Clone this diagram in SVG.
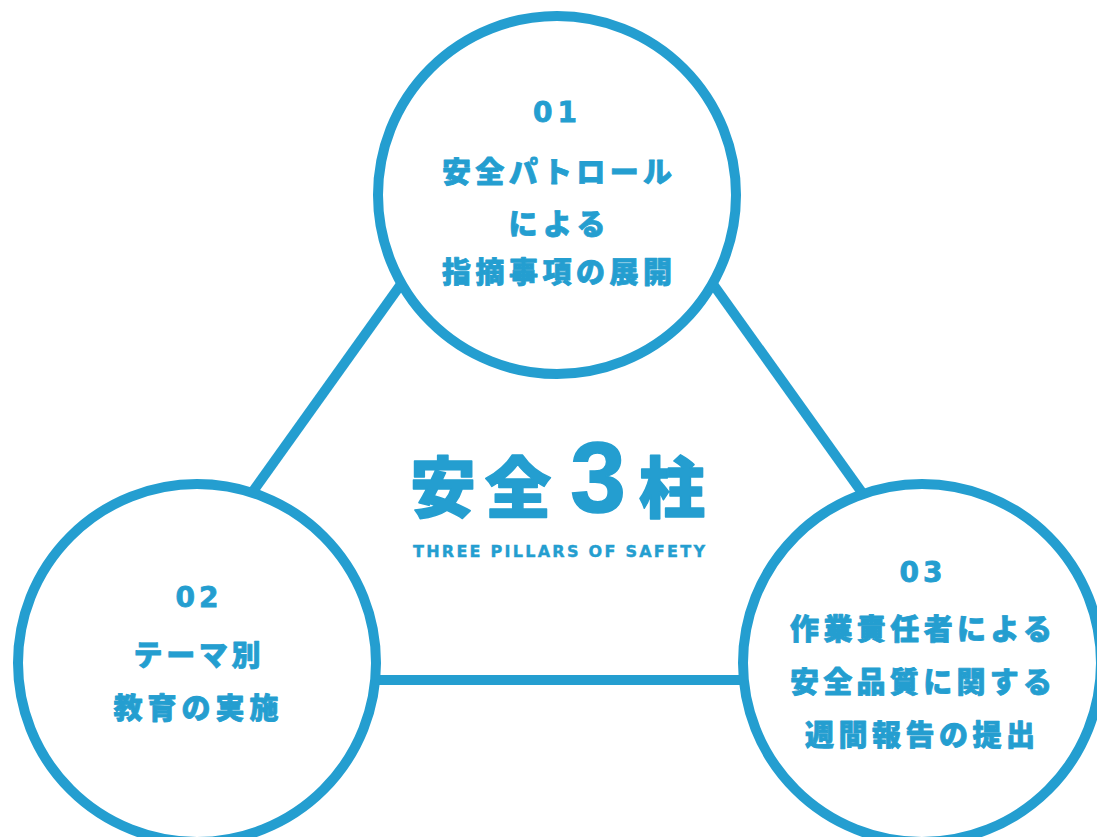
<svg xmlns="http://www.w3.org/2000/svg" width="1097" height="837" viewBox="0 0 1097 837">
  <style>
    .bg { fill: #ffffff; }
    .ring { fill: #ffffff; stroke: #249ed0; stroke-width: 10; }
    .edge { stroke: #249ed0; stroke-width: 10; stroke-linecap: butt; }
    .t { fill: #249ed0; stroke: #249ed0; stroke-width: 0.8; stroke-linejoin: round; font-family: "Noto Sans CJK JP", "Noto Sans", sans-serif; font-weight: 900; text-anchor: middle; dominant-baseline: central; }
    .num { fill: #249ed0; stroke: #249ed0; stroke-width: 0.8; font-family: "DejaVu Sans", "Liberation Sans", sans-serif; font-weight: 700; font-size: 28px; text-anchor: middle; dominant-baseline: central; }
    .lbl { font-size: 29px; }
    .big { font-size: 66px; stroke-width: 1.5; }
    .digit { fill: #249ed0; stroke: #249ed0; stroke-width: 1.5; font-family: "Liberation Sans", "Noto Sans", sans-serif; font-weight: 700; font-size: 100px; text-anchor: middle; }
    .sub { fill: #249ed0; stroke: #249ed0; stroke-width: 0.4; font-family: "DejaVu Sans", "Liberation Sans", sans-serif; font-weight: 700; font-size: 16px; text-anchor: middle; }
  </style>
  <rect class="bg" x="0" y="0" width="1097" height="837"/>

  <g id="connectors">
    <line class="edge" x1="557" y1="66" x2="118" y2="680"/>
    <line class="edge" x1="557" y1="66" x2="996" y2="680"/>
    <line class="edge" x1="118" y1="680" x2="996" y2="680"/>
  </g>

  <g id="title">
    <text class="t big" x="443" y="483">安</text>
    <text class="t big" x="518" y="483">全</text>
    <text class="digit" x="598" y="512">3</text>
    <text class="t big" x="672" y="483">柱</text>
    <text class="sub" x="559" y="557" textLength="292" lengthAdjust="spacing">THREE PILLARS OF SAFETY</text>
  </g>

  <g id="node-01">
    <circle class="ring" cx="557" cy="195" r="179"/>
    <text class="num" x="555" y="112" textLength="44" lengthAdjust="spacing">01</text>
    <text class="t lbl" x="557" y="170" textLength="230" lengthAdjust="spacing">安全パトロール</text>
    <text class="t lbl" x="557" y="222" textLength="97" lengthAdjust="spacing">による</text>
    <text class="t lbl" x="557" y="270" textLength="230" lengthAdjust="spacing">指摘事項の展開</text>
  </g>

  <g id="node-02">
    <circle class="ring" cx="197" cy="663" r="179"/>
    <text class="num" x="197" y="597" textLength="43" lengthAdjust="spacing">02</text>
    <text class="t lbl" x="197" y="653" textLength="127" lengthAdjust="spacing">テーマ別</text>
    <text class="t lbl" x="196" y="706" textLength="165" lengthAdjust="spacing">教育の実施</text>
  </g>

  <g id="node-03">
    <circle class="ring" cx="922" cy="663" r="179"/>
    <text class="num" x="921" y="572" textLength="43" lengthAdjust="spacing">03</text>
    <text class="t lbl" x="921" y="627" textLength="262" lengthAdjust="spacing">作業責任者による</text>
    <text class="t lbl" x="921" y="680" textLength="262" lengthAdjust="spacing">安全品質に関する</text>
    <text class="t lbl" x="920" y="733" textLength="230" lengthAdjust="spacing">週間報告の提出</text>
  </g>
</svg>
